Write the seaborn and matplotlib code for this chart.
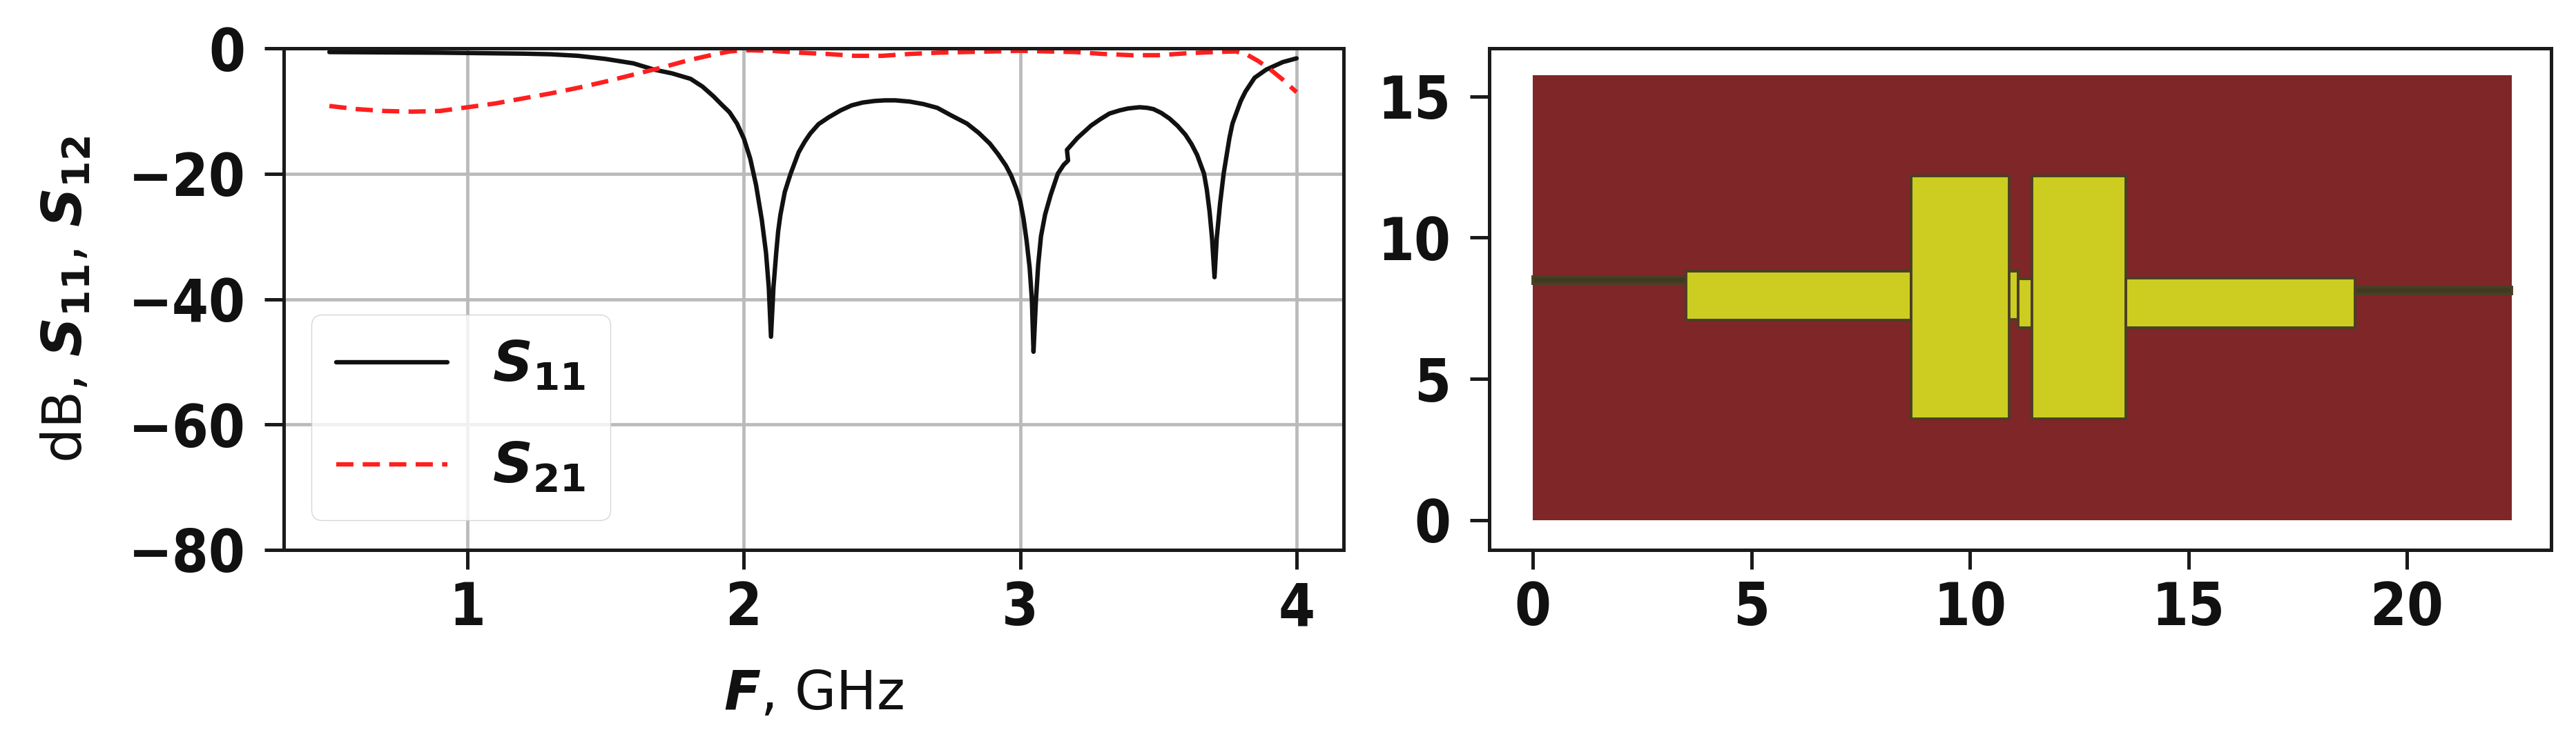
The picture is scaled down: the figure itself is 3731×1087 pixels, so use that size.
import numpy as np
import pandas as pd
import seaborn as sns
import matplotlib.pyplot as plt
from matplotlib.patches import Rectangle

# frequency response
s11_freq = [0.5, 0.7, 0.9, 1.0, 1.1, 1.2, 1.3, 1.4, 1.5, 1.6, 1.675, 1.74, 1.807, 1.85, 1.89, 1.92, 1.948, 1.975, 2.0, 2.023, 2.044, 2.065, 2.08, 2.09, 2.098,
            2.107, 2.117, 2.124, 2.132, 2.148, 2.169, 2.198, 2.22, 2.24, 2.27, 2.307, 2.35, 2.39, 2.43, 2.473, 2.51, 2.548, 2.6, 2.65, 2.7, 2.75, 2.807, 2.85, 2.89, 2.92, 2.948, 2.967,
            2.985, 3.0, 3.012, 3.023, 3.034, 3.042, 3.048, 3.057, 3.065, 3.075, 3.09, 3.11, 3.136, 3.157, 3.173, 3.169, 3.207, 3.257, 3.29, 3.323, 3.36, 3.39, 3.41, 3.432, 3.46, 3.482, 3.51,
            3.54, 3.57, 3.598, 3.62, 3.64, 3.665, 3.675, 3.685, 3.694, 3.703, 3.711, 3.723, 3.736, 3.757, 3.768, 3.782, 3.798, 3.815, 3.848, 3.89, 3.95, 4.0]
s11_db = [-0.6, -0.65, -0.7, -0.75, -0.8, -0.85, -0.95, -1.2, -1.7, -2.4, -3.4, -4.0, -4.87, -6.1, -7.66, -9.0, -10.2, -12.0, -14.4, -17.6, -21.8, -27.4, -32.6, -38.1, -46.0,
          -38.1, -32.6, -29.2, -26.6, -22.9, -20.0, -16.6, -14.9, -13.6, -12.1, -11.0, -9.9, -9.1, -8.65, -8.4, -8.3, -8.3, -8.5, -8.9, -9.5, -10.7, -12.0, -13.5, -15.2, -16.9, -18.7, -20.3,
          -22.3, -24.4, -27.2, -30.7, -35.0, -40.0, -48.4, -40.0, -34.5, -30.0, -26.5, -23.4, -20.0, -18.6, -17.9, -16.2, -14.3, -12.3, -11.3, -10.4, -9.9, -9.6, -9.5, -9.4, -9.5, -9.7, -10.3,
          -11.2, -12.4, -13.8, -15.3, -17.0, -20.0, -22.5, -26.0, -30.3, -36.5, -30.3, -24.8, -20.0, -14.3, -12.0, -10.3, -8.4, -6.9, -4.7, -3.4, -2.2, -1.6]

s21_freq = [0.5, 0.6, 0.7, 0.8, 0.9, 1.0, 1.1, 1.2, 1.3, 1.4, 1.5, 1.6, 1.7, 1.8, 1.9, 1.95, 2.0, 2.1, 2.2, 2.3, 2.4, 2.5, 2.6, 2.7,
            2.8, 2.9, 3.0, 3.1, 3.2, 3.3, 3.4, 3.5, 3.6, 3.7, 3.78, 3.82, 3.86, 3.9, 3.95, 4.0]
s21_db = [-9.2, -9.7, -10.0, -10.1, -10.0, -9.4, -8.8, -8.0, -7.2, -6.3, -5.3, -4.2, -3.1, -1.9, -0.9, -0.5, -0.3, -0.4, -0.7, -0.9, -1.2, -1.2, -0.9, -0.7,
          -0.6, -0.5, -0.4, -0.5, -0.6, -0.9, -1.1, -1.1, -0.8, -0.6, -0.5, -1.0, -2.0, -3.2, -5.0, -7.0]

x_ticks = [1, 2, 3, 4]
y_ticks = [-80, -60, -40, -20, 0]

# layout of the filter, mm: x0, x1, y0, y1
substrate = [0, 22.4, 0, 15.75]
strip_names = ['feed_l', 'stub_l', 'res_l', 'gap_a', 'gap_b', 'res_r', 'stub_r', 'feed_r']
strip_x0 = [0, 3.5, 8.66, 10.9, 11.1, 11.42, 13.56, 18.81]
strip_x1 = [3.5, 8.66, 10.9, 11.1, 11.42, 13.56, 18.81, 22.4]
strip_y0 = [8.38, 7.07, 3.58, 7.1, 6.82, 3.58, 6.8, 8.01]
strip_y1 = [8.62, 8.81, 12.18, 8.81, 8.54, 12.18, 8.56, 8.25]

sns.set_theme(style='ticks')
plt.rcParams['font.family'] = ['DejaVu Sans']
plt.rcParams['font.weight'] = 'bold'
plt.rcParams['mathtext.fontset'] = 'dejavusans'
plt.rcParams['text.color'] = '#111111'
plt.rcParams['axes.labelcolor'] = '#111111'

W, H = 3731, 1087
fig = plt.figure(figsize=(W / 100, H / 100), dpi=100, facecolor='white')
ax1 = fig.add_axes([411 / W, 1 - 797 / H, (1946 - 411) / W, (797 - 70) / H])
ax2 = fig.add_axes([2157 / W, 1 - 797 / H, (3695 - 2157) / W, (797 - 70) / H])

df11 = pd.DataFrame({'f': s11_freq, 'db': s11_db})
df21 = pd.DataFrame({'f': s21_freq, 'db': s21_db})
sns.lineplot(data=df11, x='f', y='db', ax=ax1, color='#111111', lw=4.6, errorbar=None, sort=False, label=r'$\mathbfit{S}_{\mathbf{11}}$')
sns.lineplot(data=df21, x='f', y='db', ax=ax1, color='#ff1f1f', lw=4.6, errorbar=None, linestyle=(0, (3.9, 2.1)), label=r'$\mathbfit{S}_{\mathbf{21}}$')

ax1.set_xlim(0.335, 4.17)
ax1.set_ylim(-80, 0)
ax1.set_xticks(x_ticks)
ax1.set_yticks(y_ticks)
ax1.grid(True, color='#bababa', lw=3.4)
ax1.set_xlabel(r'$\mathbfit{F}$, GHz', fontsize=56, fontweight='normal')
ax1.xaxis.set_label_coords(0.5, -0.235)
ax1.set_ylabel(r'dB, $\mathbfit{S}_{\mathbf{11}}$, $\mathbfit{S}_{\mathbf{12}}$', fontsize=57, fontweight='normal')
ax1.yaxis.set_label_coords(-0.18, 0.5)
leg = ax1.legend(loc='lower left', bbox_to_anchor=(0.026, 0.059), fontsize=58, framealpha=0.8, borderaxespad=0, handlelength=2.0, labelspacing=0.85, borderpad=0.45)

ax2.add_patch(Rectangle((substrate[0], substrate[2]), substrate[1] - substrate[0], substrate[3] - substrate[2], facecolor='#7f2628', edgecolor='none'))
for name, x0, x1, y0, y1 in zip(strip_names, strip_x0, strip_x1, strip_y0, strip_y1):
    face = '#3e3a20' if name.startswith('feed') else '#cdcd21'
    ax2.add_patch(Rectangle((x0, y0), x1 - x0, y1 - y0, facecolor=face, edgecolor='#4a3f24', lw=2.8))
ax2.set_xlim(-1.0, 23.3)
ax2.set_ylim(-1.05, 16.7)
ax2.set_xticks([0, 5, 10, 15, 20])
ax2.set_yticks([0, 5, 10, 15])

for ax in [ax1, ax2]:
    ax.xaxis.set_ticks_position('bottom')
    ax.yaxis.set_ticks_position('left')
    ax.tick_params(axis='both', labelsize=61, width=3.6, length=20, color='#1a1a1a', labelcolor='#111111')
    ax.tick_params(axis='x', pad=12)
    ax.tick_params(axis='y', pad=20)
    for lab in ax.get_xticklabels() + ax.get_yticklabels():
        lab.set_fontstretch('condensed')
    for side in ax.spines.values():
        side.set_visible(True)
        side.set_color('#1a1a1a')
        side.set_linewidth(3.6)

fig.savefig('out.png', dpi=100)
